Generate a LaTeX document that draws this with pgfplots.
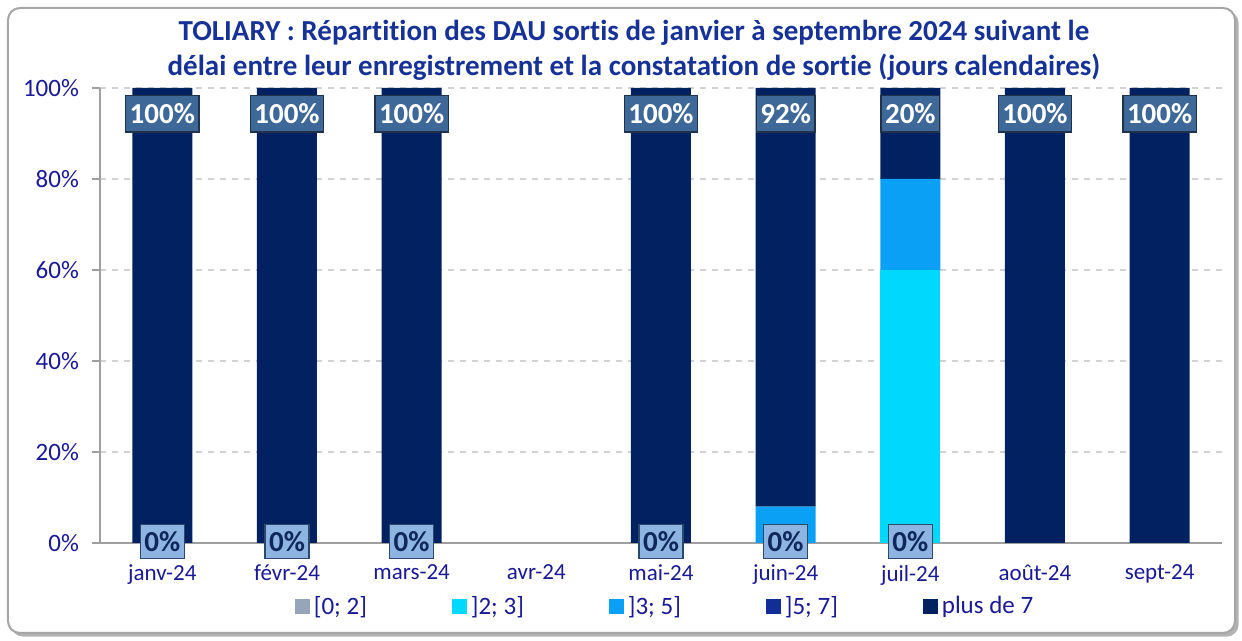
\documentclass[border=0pt]{standalone}
\usepackage{pgfplots}
\pgfplotsset{compat=1.18}
\usepackage{fontspec}
\setmainfont{Carlito}[Ligatures=NoCommon]
\definecolor{c1}{RGB}{150,165,185}
\definecolor{c2}{RGB}{0,216,254}
\definecolor{c3}{RGB}{10,160,245}
\definecolor{c4}{RGB}{16,46,150}
\definecolor{c5}{RGB}{2,33,96}
\definecolor{txt}{RGB}{26,26,150}
\definecolor{ttl}{RGB}{22,50,150}
\definecolor{lab}{RGB}{62,104,152}
\definecolor{lab0}{RGB}{142,180,226}
\definecolor{lab0t}{RGB}{15,40,92}
\newcommand{\lt}[1]{\makebox[67pt][l]{#1}}
\begin{document}
\begin{tikzpicture}
\useasboundingbox (-50pt,-49pt) rectangle (571pt,271.5pt);
\fill[gray!60, rounded corners=6pt] (-44.5pt,-46.8pt) rectangle (569.3pt,266pt);
\draw[gray!70, fill=white, line width=1pt, rounded corners=6pt] (-46pt,-45pt) rectangle (567.5pt,267.5pt);
\node[align=center, font=\bfseries\fontsize{14.5}{17.5}\selectfont, text=ttl] at (267pt,246.5pt)
 {TOLIARY : Répartition des DAU sortis de janvier à septembre 2024 suivant le\\délai entre leur enregistrement et la constatation de sortie (jours calendaires)};
\pgfplotsset{common/.style={scale only axis, width=561pt, height=227.5pt,
  xmin=-0.5, xmax=8.5, ymin=0, ymax=100, clip=false, at={(0pt,0pt)}, anchor=south west,
  /pgf/number format/assume math mode=true}}
\begin{axis}[common,
  ybar stacked, bar width=30pt,
  axis x line=bottom, axis y line=left,
  axis line style={gray!75, line width=0.8pt, -},
  tick align=outside,
  ytick={0,20,...,100},
  yticklabel={\pgfmathprintnumber{\tick}\%},
  yticklabel style={font=\fontsize{12.5}{12.5}\selectfont, text=txt, xshift=-3pt},
  ymajorgrids, major grid style={dashed, gray!35, line width=0.6pt},
  major tick length=4pt,
  y tick style={gray!75, line width=0.8pt},
  xtick={0,...,8},
  xticklabels={janv-24,févr-24,mars-24,avr-24,mai-24,juin-24,juil-24,août-24,sept-24},
  xticklabel style={font=\fontsize{11.5}{12}\selectfont, text=txt, yshift=-3.5pt},
  x tick style={draw=none},
  minor xtick={-0.5,0.5,...,8.5},
  minor x tick style={gray!75, line width=0.8pt},
  minor tick length=3.5pt,
  legend style={at={(0.168,-0.14)}, anchor=west, draw=none, fill=none,
    legend columns=5, font=\fontsize{12.5}{13}\selectfont, text=txt},
  legend image code/.code={\fill[#1] (0pt,-3.75pt) rectangle (7.5pt,3.75pt);},
]
\addplot[fill=c1, draw=none] coordinates {(0,0)(1,0)(2,0)(3,0)(4,0)(5,0)(6,0)(7,0)(8,0)};
\addlegendentry{\lt{[0; 2]}}
\addplot[fill=c2, draw=none] coordinates {(0,0)(1,0)(2,0)(3,0)(4,0)(5,0)(6,60)(7,0)(8,0)};
\addlegendentry{\lt{]2; 3]}}
\addplot[fill=c3, draw=none] coordinates {(0,0)(1,0)(2,0)(3,0)(4,0)(5,8)(6,20)(7,0)(8,0)};
\addlegendentry{\lt{]3; 5]}}
\addplot[fill=c4, draw=none] coordinates {(0,0)(1,0)(2,0)(3,0)(4,0)(5,0)(6,0)(7,0)(8,0)};
\addlegendentry{\lt{]5; 7]}}
\addplot[fill=c5, draw=none] coordinates {(0,100)(1,100)(2,100)(3,0)(4,100)(5,92)(6,20)(7,100)(8,100)};
\addlegendentry{plus de 7}
\end{axis}
\begin{axis}[common, hide axis]
\addplot[only marks, mark=none, point meta=explicit,
  nodes near coords={\pgfmathprintnumber{\pgfplotspointmeta}\%},
  every node near coord/.append style={anchor=center, fill=lab, draw=lab!50!black, line width=0.6pt,
    text=white, font=\bfseries\fontsize{14.5}{14.5}\selectfont, inner xsep=2pt, inner ysep=4pt}]
 coordinates {(0,94.3)[100] (1,94.3)[100] (2,94.3)[100] (4,94.3)[100] (5,94.3)[92] (6,94.3)[20] (7,94.3)[100] (8,94.3)[100]};
\addplot[only marks, mark=none, point meta=explicit,
  nodes near coords={\pgfmathprintnumber{\pgfplotspointmeta}\%},
  every node near coord/.append style={anchor=center, fill=lab0, draw=lab!70!black, line width=0.6pt,
    text=lab0t, font=\bfseries\fontsize{14.5}{14.5}\selectfont, inner xsep=2pt, inner ysep=3.5pt}]
 coordinates {(0,0.3)[0] (1,0.3)[0] (2,0.3)[0] (4,0.3)[0] (5,0.3)[0] (6,0.3)[0]};
\end{axis}
\end{tikzpicture}
\end{document}
